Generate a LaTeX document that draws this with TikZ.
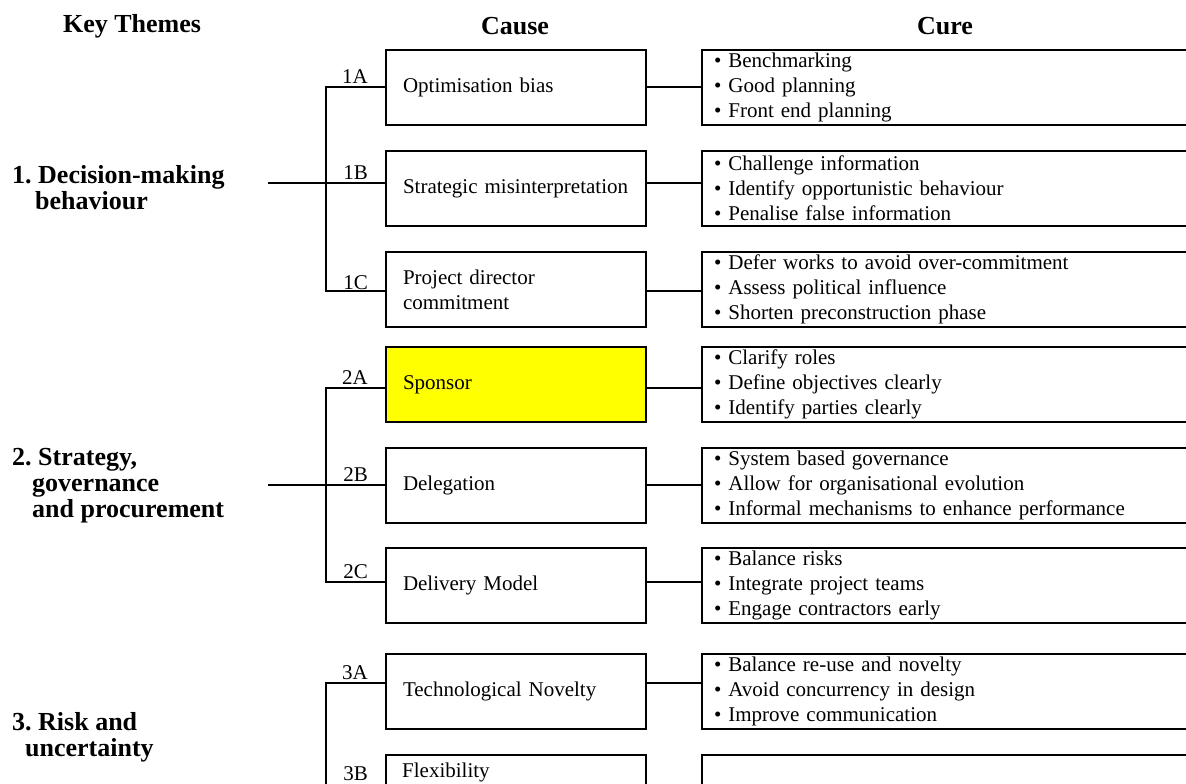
\documentclass[tikz,border=0pt]{standalone}
\usepackage{fontspec}
\setmainfont{Liberation Serif}
\definecolor{marker}{RGB}{255,255,0}
\frenchspacing
\begin{document}
\begin{tikzpicture}[x=1pt,y=-1pt,
  every node/.style={inner sep=0pt},
  body/.style={font=\fontsize{21}{25}\selectfont},
  heading/.style={font=\fontsize{26}{26}\selectfont\bfseries},
  theme/.style={heading, align=left, anchor=west},
  causebox/.style={body, draw, line width=2pt, anchor=north west,
    minimum height=75pt, text width=226pt, inner xsep=17pt, align=left},
  curebox/.style={body, draw, line width=2pt, anchor=north west,
    minimum height=75pt, text width=476pt, inner xsep=12pt, align=left},
  tag/.style={body, anchor=base east},
  link/.style={line width=2pt},
]
\useasboundingbox (0,0) rectangle (1186,784);
\clip (0,0) rectangle (1186,784);

% column headings
\node[heading] (hkey)   at (132,26) {Key Themes};
\node[heading] (hcause) at (515,26) {Cause};
\node[heading] (hcure)  at (945,26) {Cure};

% key themes
\node[theme] (th1) at (12,188) {1. Decision-making\\\hspace*{23pt}behaviour};
\node[theme] (th2) at (12,486) {2. Strategy,\\\hspace*{20pt}governance\\\hspace*{20pt}and procurement};
\node[theme] (th3) at (12,737) {3. Risk and\\\hspace*{13pt}uncertainty};

% causes
\node[causebox] (c1a) at (385,49)  {Optimisation bias};
\node[causebox] (c1b) at (385,150) {Strategic misinterpretation};
\node[causebox] (c1c) at (385,251) {Project director\\commitment};
\node[causebox, fill=marker] (c2a) at (385,346) {Sponsor};
\node[causebox] (c2b) at (385,447) {Delegation};
\node[causebox] (c2c) at (385,547) {Delivery Model};
\node[causebox] (c3a) at (385,653) {Technological Novelty};
\node[causebox] (c3b) at (385,754) {};
\node[body, anchor=west] (c3bt) at (402,772) {Flexibility};

% cures
\node[curebox] (u1a) at (701,49)  {\textbullet{} Benchmarking\\\textbullet{} Good planning\\\textbullet{} Front end planning};
\node[curebox] (u1b) at (701,150) {\textbullet{} Challenge information\\\textbullet{} Identify opportunistic behaviour\\\textbullet{} Penalise false information};
\node[curebox] (u1c) at (701,251) {\textbullet{} Defer works to avoid over-commitment\\\textbullet{} Assess political influence\\\textbullet{} Shorten preconstruction phase};
\node[curebox] (u2a) at (701,346) {\textbullet{} Clarify roles\\\textbullet{} Define objectives clearly\\\textbullet{} Identify parties clearly};
\node[curebox] (u2b) at (701,447) {\textbullet{} System based governance\\\textbullet{} Allow for organisational evolution\\\textbullet{} Informal mechanisms to enhance performance};
\node[curebox] (u2c) at (701,547) {\textbullet{} Balance risks\\\textbullet{} Integrate project teams\\\textbullet{} Engage contractors early};
\node[curebox] (u3a) at (701,653) {\textbullet{} Balance re-use and novelty\\\textbullet{} Avoid concurrency in design\\\textbullet{} Improve communication};
\node[curebox] (u3b) at (701,754) {};

% branch points on the spines
\coordinate (s1a) at (326,87);
\coordinate (s1b) at (326,183);
\coordinate (s1c) at (326,291);
\coordinate (s2a) at (326,388);
\coordinate (s2b) at (326,485);
\coordinate (s2c) at (326,582);
\coordinate (s3a) at (326,683);
\coordinate (s3end) at (326,800);
\coordinate (t1) at (268,183);
\coordinate (t2) at (268,485);

% spines
\draw[link] (s1a -| c1a.west) -- (s1a) -- (s1c) -- (s1c -| c1c.west);
\draw[link] (t1) -- (s1b -| c1b.west);
\draw[link] (s2a -| c2a.west) -- (s2a) -- (s2c) -- (s2c -| c2c.west);
\draw[link] (t2) -- (s2b -| c2b.west);
\draw[link] (s3a -| c3a.west) -- (s3a) -- (s3end);

% cause to cure links
\foreach \k in {1a,1b,1c,2a,2b,2c,3a}
  \draw[link] (s\k -| c\k.east) -- (s\k -| u\k.west);

% cause codes
\node[tag] (l1a) at (368,83)  {1A};
\node[tag] (l1b) at (368,179) {1B};
\node[tag] (l1c) at (368,289) {1C};
\node[tag] (l2a) at (368,384) {2A};
\node[tag] (l2b) at (368,481) {2B};
\node[tag] (l2c) at (368,578) {2C};
\node[tag] (l3a) at (368,679) {3A};
\node[tag] (l3b) at (368,780) {3B};
\end{tikzpicture}
\end{document}
